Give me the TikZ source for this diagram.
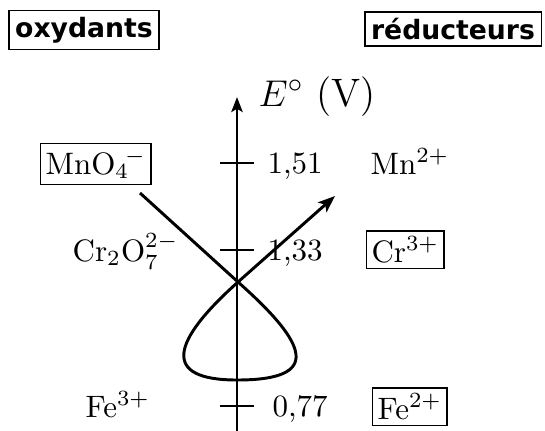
\documentclass[tikz,border=0pt]{standalone}
\usepackage{fontspec}
\newfontfamily\hdrfont{DejaVu Sans}
\usetikzlibrary{arrows.meta}
\tikzset{
  lbl/.style={font=\fontsize{10}{12}\selectfont, inner sep=0pt, anchor=base west},
  spbox/.style={lbl, draw, line width=0.42pt, inner xsep=1.6pt, inner ysep=1.9pt},
  hdr/.style={font=\hdrfont\bfseries\fontsize{8.6}{10}\selectfont, draw, line width=0.42pt, inner sep=2pt},
  axisline/.style={line width=0.95pt, -{Stealth[length=4.8pt,width=3.6pt,inset=1pt]}},
  tickline/.style={line width=0.95pt},
  redox/.style={line width=0.95pt, line join=round, -{Stealth[length=5.5pt,width=4.2pt,inset=1.3pt]}}
}
\begin{document}
\begin{tikzpicture}[x=0.3226pt,y=-0.3226pt]
\useasboundingbox (0,0) rectangle (545,430);
% headers
\node[hdr] (ox) at (84,30) {oxydants};
\node[hdr] (red) at (453,29) {réducteurs};
% axis
\coordinate (abot) at (237,432);
\coordinate (atop) at (237,97);
\draw[axisline] (abot) -- (atop);
\node[font=\fontsize{12.8}{15}\selectfont, inner sep=0pt, anchor=base west] (E) at (258,106) {$E^\circ$ (V)};
% ticks
\foreach \n/\y in {t1/163, t2/250, t3/406}{
  \coordinate (\n) at (237,\y);
  \draw[tickline] (\n) ++(-17,0) -- ++(34,0);
}
\node[lbl] (v1) at (267,173) {1,51};
\node[lbl] (v2) at (267,260) {1,33};
\node[lbl] (v3) at (272,416) {0,77};
% species
\node[spbox] (mno4) at (40,174) {MnO$_4{}^{\!-}$};
\node[lbl] (mn) at (370,174) {Mn$^{2+}$};
\node[lbl] (cr2o7) at (72,261) {Cr$_2$O$_7^{2-}$};
\node[spbox] (cr) at (366,262) {Cr$^{3+}$};
\node[lbl] (fe3) at (85,417) {Fe$^{3+}$};
\node[spbox] (fe2) at (372,419) {Fe$^{2+}$};
% redox loop
\coordinate (s0) at (140,193);
\coordinate (xx) at (238,282);
\coordinate (bt) at (237,380);
\coordinate (s1) at (335,196);
\draw[redox] (s0) -- (xx) .. controls (309,345) and (322,380) .. (bt)
  .. controls (160,380) and (172,341) .. (xx) -- (s1);
\end{tikzpicture}
\end{document}
